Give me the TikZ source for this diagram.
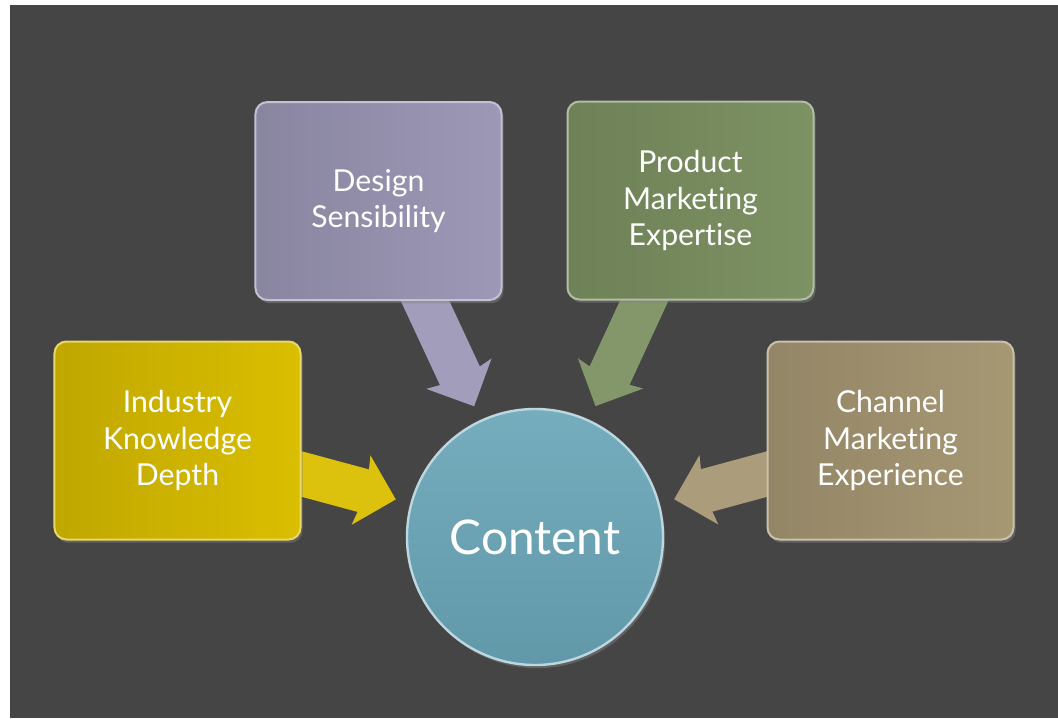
\documentclass[tikz,border=0pt]{standalone}
\usepackage{fontspec}
\setmainfont{Lato}[Ligatures={NoCommon,NoContextual}]
\usetikzlibrary{arrows.meta,shadows,backgrounds}

\definecolor{slate}{HTML}{454545}
\definecolor{gold}{HTML}{DABE00}
\definecolor{lilac}{HTML}{9C98B6}
\definecolor{moss}{HTML}{7D9263}
\definecolor{khaki}{HTML}{A79874}
\definecolor{teal}{HTML}{6AA6B8}

\tikzset{
  card/.style={rounded corners=3mm, minimum width=61.5mm, minimum height=49.5mm,
    align=center, text=white, font=\fontsize{21.5}{26}\selectfont,
    line width=0.5mm, shading angle=0,
    left color=#1!88!black, middle color=#1!95!white, right color=#1,
    draw=#1!60!white,
    drop shadow={opacity=0.5, shadow xshift=0.5mm, shadow yshift=-0.8mm}},
  hubnode/.style={circle, minimum size=64mm, inner sep=0pt, text=white,
    font=\fontsize{34}{40}\selectfont, line width=0.6mm,
    top color=teal!92!white, bottom color=teal!92!black, draw=teal!45!white,
    drop shadow={opacity=0.5, shadow xshift=0.5mm, shadow yshift=-0.8mm}},
  flow/.style={line width=11mm, draw=#1, shorten >=3.75mm,
    -{Stealth[width=18mm, length=9mm, inset=1.5mm, line width=0pt]}},
}

\begin{document}
\begin{tikzpicture}[x=0.25mm, y=-0.25mm]
\useasboundingbox (0,0) rectangle (1058,718);

\node[hubnode] (hub) at (535,537) {Content};

\node[card=gold]  (ind) at (177.5,440.5) {Industry\\Knowledge\\Depth};
\node[card=lilac] (des) at (378.5,201)   {Design\\Sensibility};
\node[card=moss]  (pro) at (690.5,200.5) {Product\\Marketing\\Expertise};
\node[card=khaki] (cha) at (890.5,440.5) {Channel\\Marketing\\Experience};

\begin{scope}[on background layer]
  \fill[white] (0,0) rectangle (1058,718);
  \fill[slate] (10,5) rectangle (1058,718);
  % block arrows into the hub
  \draw[flow=gold!95!white]  (ind.center) -- (hub);
  \draw[flow=lilac!95!white] (des.center) -- (hub);
  \draw[flow=moss!95!white]  (pro.center) -- (hub);
  \draw[flow=khaki!95!white] (cha.center) -- (hub);
\end{scope}
\end{tikzpicture}
\end{document}
